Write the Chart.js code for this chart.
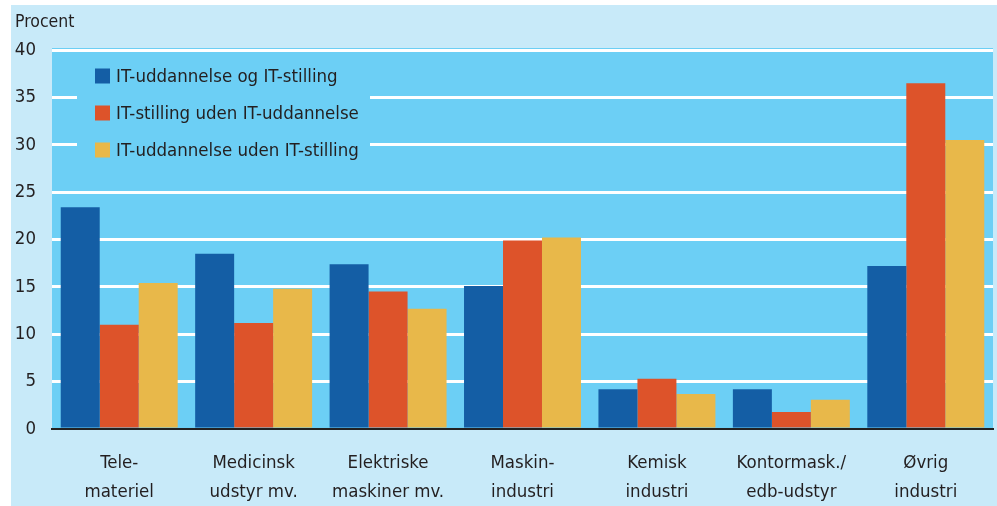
<!DOCTYPE html>
<html>
<head>
<meta charset="utf-8">
<script src="https://cdn.jsdelivr.net/npm/chart.js@4/dist/chart.umd.min.js"></script>
<style>
    body { margin: 0; background: #ffffff; }
    #wrap { position: absolute; left: 11px; top: 5px; width: 986px; height: 501px; background: #c8eaf9; }
</style>
</head>
<body>
<div id="wrap"><canvas id="chart" width="986" height="501"></canvas></div>
<script>
const categories = [
    ['Tele-', 'materiel'],
    ['Medicinsk', 'udstyr mv.'],
    ['Elektriske', 'maskiner mv.'],
    ['Maskin-', 'industri'],
    ['Kemisk', 'industri'],
    ['Kontormask./', 'edb-udstyr'],
    ['Øvrig', 'industri']
];
const seriesNames = ['IT-uddannelse og IT-stilling', 'IT-stilling uden IT-uddannelse', 'IT-uddannelse uden IT-stilling'];
const itBoth = [23.4, 18.5, 17.4, 15.1, 4.2, 4.2, 17.2];
const itJobOnly = [11.0, 11.2, 14.5, 19.9, 5.3, 1.8, 36.5];
const itEduOnly = [15.4, 14.8, 12.7, 20.2, 3.7, 3.1, 30.5];
const yMin = 0, yMax = 40, yStep = 5;

const colors = ['#145ea5', '#dd532a', '#e8b84a'];
const plotBg = '#6ccff5';
const fontName = '"DejaVu Sans Condensed", "Liberation Sans Narrow", sans-serif';
const textColor = '#231f20';

// plot background + legend box + y-axis title
const decor = {
    id: 'decor',
    beforeDraw(chart) {
        const { ctx, chartArea } = chart;
        ctx.save();
        ctx.fillStyle = plotBg;
        ctx.fillRect(chartArea.left, chartArea.top - 2, chartArea.right - chartArea.left, chartArea.bottom - chartArea.top + 2);
        ctx.fillStyle = textColor;
        ctx.font = '17.5px ' + fontName;
        ctx.textBaseline = 'middle';
        ctx.textAlign = 'left';
        ctx.fillText('Procent', 4, 17);
        ctx.restore();
    },
    beforeDatasetsDraw(chart) {
        const { ctx, chartArea } = chart;
        const x0 = chartArea.left + 25, y0 = chartArea.top + 5;
        ctx.save();
        ctx.fillStyle = plotBg;
        ctx.fillRect(x0, y0, 293, 115);
        ctx.font = '18.5px ' + fontName;
        ctx.textBaseline = 'middle';
        ctx.textAlign = 'left';
        chart.data.datasets.forEach((ds, i) => {
            const cy = y0 + 21 + i * 37;
            ctx.fillStyle = ds.backgroundColor;
            ctx.fillRect(x0 + 18, cy - 7.5, 15, 15);
            ctx.fillStyle = textColor;
            ctx.fillText(ds.label, x0 + 39, cy + 1);
        });
        ctx.restore();
    }
};

new Chart(document.getElementById('chart'), {
    type: 'bar',
    data: {
        labels: categories,
        datasets: [
            { label: seriesNames[0], data: itBoth, backgroundColor: colors[0] },
            { label: seriesNames[1], data: itJobOnly, backgroundColor: colors[1] },
            { label: seriesNames[2], data: itEduOnly, backgroundColor: colors[2] }
        ]
    },
    options: {
        responsive: false,
        animation: false,
        layout: { padding: { top: 45, right: 4, left: 0, bottom: 0 } },
        datasets: { bar: { categoryPercentage: 0.87, barPercentage: 1.0 } },
        plugins: { legend: { display: false }, tooltip: { enabled: false } },
        scales: {
            x: {
                grid: { display: false, drawTicks: false },
                border: { display: true, color: '#222222', width: 2 },
                ticks: { color: textColor, font: { family: fontName, size: 18.5, lineHeight: 1.55 }, padding: 20, maxRotation: 0, autoSkip: false },
                afterFit(scale) { scale.height = 77; }
            },
            y: {
                min: yMin, max: yMax,
                grid: {
                    drawTicks: false,
                    lineWidth: 3,
                    color: (c) => c.tick && c.tick.value === 0 ? 'rgba(0,0,0,0)' : '#ffffff'
                },
                border: { display: false },
                ticks: { stepSize: yStep, color: textColor, font: { family: fontName, size: 18.5 }, padding: 16 },
                afterFit(scale) { scale.width = 41; }
            }
        }
    },
    plugins: [decor]
});
</script>
</body>
</html>
